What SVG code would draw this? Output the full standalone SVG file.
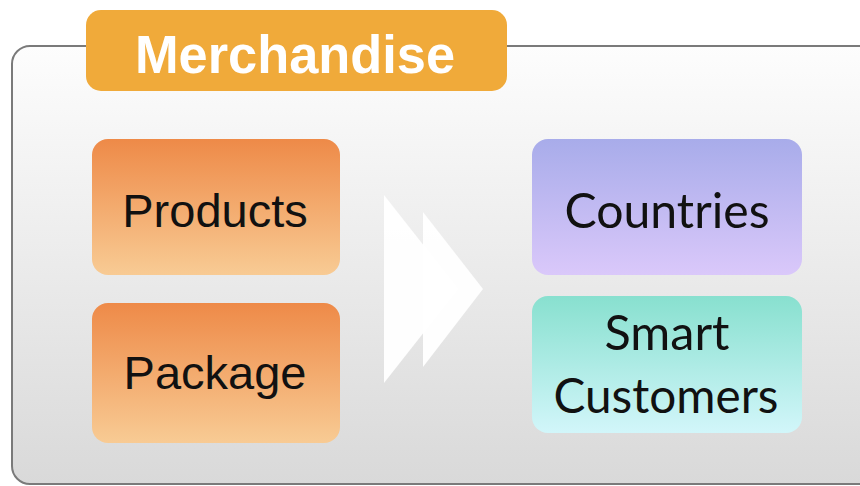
<svg xmlns="http://www.w3.org/2000/svg" width="860" height="486" viewBox="0 0 860 486">
<defs>
<linearGradient id="bg" x1="0" y1="0" x2="0" y2="1"><stop offset="0" stop-color="#fdfdfd"/><stop offset="1" stop-color="#d9d9d9"/></linearGradient>
<linearGradient id="orange" x1="0" y1="0" x2="0" y2="1"><stop offset="0" stop-color="#ee8a48"/><stop offset="1" stop-color="#f8cb94"/></linearGradient>
<linearGradient id="purple" x1="0" y1="0" x2="0" y2="1"><stop offset="0" stop-color="#a8acea"/><stop offset="1" stop-color="#dac8fa"/></linearGradient>
<linearGradient id="teal" x1="0" y1="0" x2="0" y2="1"><stop offset="0" stop-color="#88e0cf"/><stop offset="1" stop-color="#d2f6fa"/></linearGradient>
</defs>
<style>
.lbl{font-family:"Liberation Sans",Arial,sans-serif;font-size:47px;fill:#111;text-anchor:middle}
.lbr{font-family:Lato,"Open Sans",sans-serif;font-size:48px;fill:#111;text-anchor:middle}
.box{stroke:none}
</style>
<rect width="860" height="486" fill="#ffffff"/>
<g id="container">
<rect x="12" y="46" width="870" height="438" rx="18" fill="url(#bg)" stroke="#7a7a7a" stroke-width="2"/>
</g>
<g id="title">
<rect x="86" y="10" width="421" height="81" rx="15" fill="#f0aa3a"/>
<text x="295" y="73" font-family="'Liberation Sans',Arial,sans-serif" font-weight="bold" font-size="54" fill="#ffffff" text-anchor="middle" textLength="320" lengthAdjust="spacingAndGlyphs">Merchandise</text>
</g>
<g id="connectors">
<polygon points="384,195 458,289 384,383" fill="#ffffff" fill-opacity="0.95"/>
<polygon points="423,212 483,289 423,367" fill="#ffffff" fill-opacity="0.95"/>
</g>
<g id="products">
<rect class="box" x="92" y="139" width="248" height="136" rx="16" fill="url(#orange)"/>
<text class="lbl" x="215" y="227">Products</text>
</g>
<g id="package">
<rect class="box" x="92" y="303" width="248" height="140" rx="16" fill="url(#orange)"/>
<text class="lbl" x="215" y="389">Package</text>
</g>
<g id="countries">
<rect class="box" x="532" y="139" width="270" height="136" rx="16" fill="url(#purple)"/>
<text class="lbr" x="667" y="228" textLength="205" lengthAdjust="spacingAndGlyphs">Countries</text>
</g>
<g id="smart-customers">
<rect class="box" x="532" y="296" width="270" height="137" rx="16" fill="url(#teal)"/>
<text class="lbr" x="667" y="350" textLength="125" lengthAdjust="spacingAndGlyphs">Smart</text>
<text class="lbr" x="666" y="413" textLength="225" lengthAdjust="spacingAndGlyphs">Customers</text>
</g>
</svg>
